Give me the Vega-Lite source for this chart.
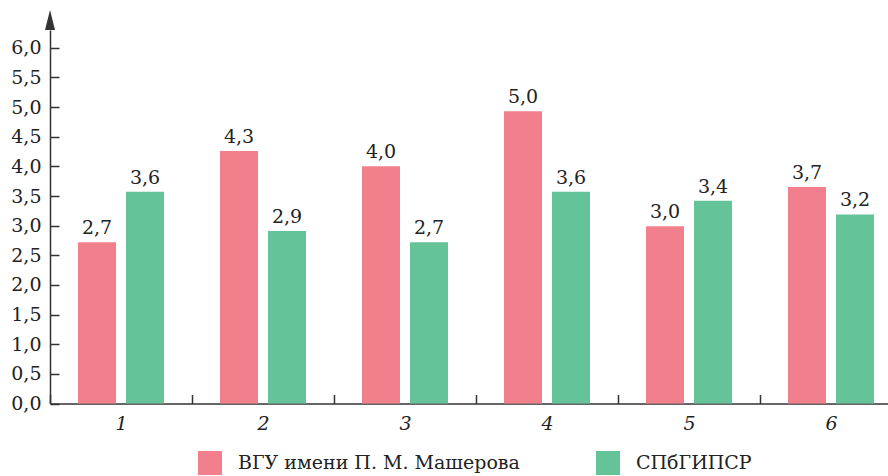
{
  "$schema": "https://vega.github.io/schema/vega-lite/v6.json",
  "width": 838,
  "height": 373.5,
  "autosize": {"type": "none"},
  "padding": {"left": 50, "top": 30, "right": 0, "bottom": 72.5},
  "background": "white",
  "config": {
    "view": {"stroke": null},
    "font": "DejaVu Serif",
    "axis": {"domainColor": "#333333", "tickColor": "#333333", "domainWidth": 1.5, "tickWidth": 1.5, "labelColor": "#222222", "labelFont": "DejaVu Serif", "labelFontSize": 18, "grid": false, "title": null},
    "legend": {"labelFont": "DejaVu Serif", "labelFontSize": 20, "labelColor": "#222222"}
  },
  "data": {
    "values": [
      {"cat": "1", "series": "ВГУ имени П. М. Машерова", "value": 2.72, "label": "2,7"},
      {"cat": "1", "series": "СПбГИПСР", "value": 3.57, "label": "3,6"},
      {"cat": "2", "series": "ВГУ имени П. М. Машерова", "value": 4.26, "label": "4,3"},
      {"cat": "2", "series": "СПбГИПСР", "value": 2.91, "label": "2,9"},
      {"cat": "3", "series": "ВГУ имени П. М. Машерова", "value": 4.0, "label": "4,0"},
      {"cat": "3", "series": "СПбГИПСР", "value": 2.72, "label": "2,7"},
      {"cat": "4", "series": "ВГУ имени П. М. Машерова", "value": 4.93, "label": "5,0"},
      {"cat": "4", "series": "СПбГИПСР", "value": 3.57, "label": "3,6"},
      {"cat": "5", "series": "ВГУ имени П. М. Машерова", "value": 2.99, "label": "3,0"},
      {"cat": "5", "series": "СПбГИПСР", "value": 3.42, "label": "3,4"},
      {"cat": "6", "series": "ВГУ имени П. М. Машерова", "value": 3.65, "label": "3,7"},
      {"cat": "6", "series": "СПбГИПСР", "value": 3.19, "label": "3,2"}
    ]
  },
  "encoding": {
    "x": {"field": "cat", "type": "nominal", "sort": null,
          "scale": {"paddingInner": 0, "paddingOuter": 0, "range": [0, 852]},
          "axis": {"labelAngle": 0, "labelFontStyle": "italic", "labelFontSize": 19, "tickBand": "extent", "tickSize": -9, "labelPadding": 20}},
    "y": {"field": "value", "type": "quantitative",
          "scale": {"domain": [0, 6.3], "nice": false, "zero": true},
          "axis": {"values": [0, 0.5, 1, 1.5, 2, 2.5, 3, 3.5, 4, 4.5, 5, 5.5, 6], "tickSize": -9, "labelPadding": 18, "labelFontSize": 19,
                   "labelOverlap": false, "labelFlush": false,
                   "labelExpr": "replace(format(datum.value, '.1f'), '.', ',')"}}
  },
  "layer": [
    {
      "mark": {"type": "bar"},
      "encoding": {
        "xOffset": {"field": "series", "type": "nominal", "sort": null, "scale": {"paddingInner": 0.2083, "paddingOuter": 0.583}},
        "color": {"field": "series", "type": "nominal", "sort": null,
                  "scale": {"domain": ["ВГУ имени П. М. Машерова", "СПбГИПСР"], "range": ["#f2808c", "#64c399"]},
                  "legend": {"orient": "none", "legendX": 148, "legendY": 421, "direction": "horizontal", "title": null,
                             "symbolType": "square", "symbolSize": 576, "symbolStrokeWidth": 0, "symbolOpacity": 1,
                             "labelFont": "DejaVu Serif", "labelFontSize": 19, "labelLimit": 500,
                             "labelOffset": 16, "columnPadding": 76}}
      }
    },
    {
      "mark": {"type": "text", "dy": -8, "baseline": "alphabetic", "fontSize": 19, "color": "#222222", "font": "DejaVu Serif"},
      "encoding": {
        "xOffset": {"field": "series", "type": "nominal", "sort": null},
        "text": {"field": "label"}
      }
    },
    {
      "data": {"values": [{"cat": "1", "value": 6.47}]},
      "mark": {"type": "point", "shape": "M0,-1L0.5,1L-0.5,1Z", "filled": true, "color": "#333333", "opacity": 1, "size": 400},
      "encoding": {
        "x": {"field": "cat", "type": "nominal", "sort": null, "bandPosition": 0}
      }
    }
  ]
}
